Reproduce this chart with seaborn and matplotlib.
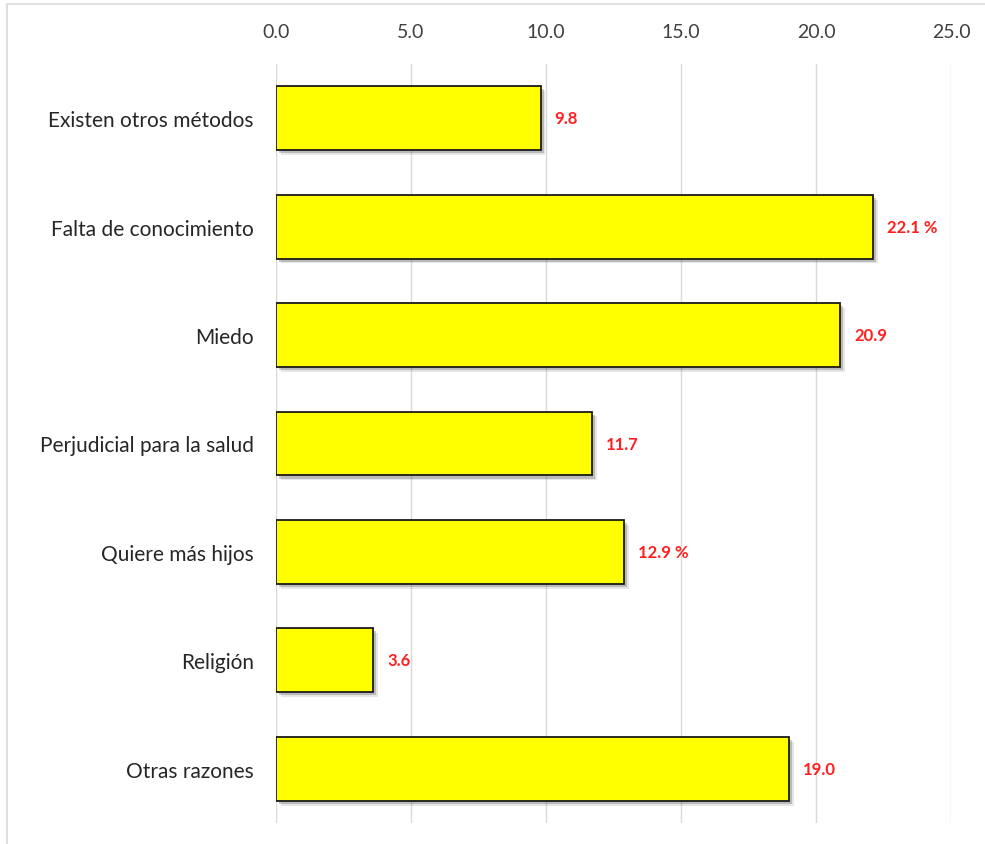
import matplotlib
matplotlib.use("Agg")
import matplotlib.pyplot as plt
import matplotlib.patheffects as pe
from matplotlib.lines import Line2D
import seaborn as sns
import pandas as pd

categories = [
    "Existen otros métodos",
    "Falta de conocimiento",
    "Miedo",
    "Perjudicial para la salud",
    "Quiere más hijos",
    "Religión",
    "Otras razones",
]
values = [9.8, 22.1, 20.9, 11.7, 12.9, 3.6, 19.0]
value_labels = ["9.8", "22.1 %", "20.9", "11.7", "12.9 %", "3.6", "19.0"]
x_ticks = [0, 5, 10, 15, 20, 25]
x_tick_labels = ["0.0", "5.0", "10.0", "15.0", "20.0", "25.0"]

sns.set_theme(style="white")
plt.rcParams["font.family"] = ["Lato", "DejaVu Sans"]

df = pd.DataFrame({"razon": categories, "valor": values})

fig = plt.figure(figsize=(9.85, 8.45), dpi=100)
ax = fig.add_axes([276 / 985, 1 - 824 / 845, (951 - 276) / 985, (824 - 65) / 845])

sns.barplot(
    data=df, y="razon", x="valor", orient="h", ax=ax,
    color="#FFFF00", edgecolor="#1a1a1a", linewidth=1.3, width=0.59,
    saturation=1,
)

# soft drop shadow under each bar
shadow = [
    pe.SimplePatchShadow(offset=(3.5, -3.5), shadow_rgbFace="#777777", alpha=0.18),
    pe.SimplePatchShadow(offset=(2.2, -2.2), shadow_rgbFace="#555555", alpha=0.3),
    pe.Normal(),
]
for patch in ax.patches:
    patch.set_path_effects(shadow)

ax.set_xlim(0, 25)
ax.set_ylim(6.5, -0.5)
ax.set_xticks(x_ticks)
ax.set_xticklabels(x_tick_labels)
ax.xaxis.tick_top()
ax.tick_params(axis="x", length=0, pad=17, labelsize=14, labelcolor="#404040")
ax.tick_params(axis="y", length=0, pad=16, labelsize=15, labelcolor="#262626")
ax.set_xlabel("")
ax.set_ylabel("")
ax.grid(axis="x", color="#D9D9D9", linewidth=1)
ax.set_axisbelow(True)
for s in ax.spines.values():
    s.set_visible(False)

for i, (v, lab) in enumerate(zip(values, value_labels)):
    ax.annotate(lab, xy=(v, i), xytext=(10, 0), textcoords="offset points",
                ha="left", va="center", color="#FF1F1F", fontsize=12,
                fontweight="bold")

# light frame around the chart area
fig.add_artist(Line2D([7 / 985, 7 / 985], [0, 1 - 5 / 845], color="#D9D9D9", lw=1.2,
                      transform=fig.transFigure))
fig.add_artist(Line2D([7 / 985, 1], [1 - 5 / 845, 1 - 5 / 845], color="#D9D9D9", lw=1.2,
                      transform=fig.transFigure))

fig.savefig("out.png", dpi=100)
